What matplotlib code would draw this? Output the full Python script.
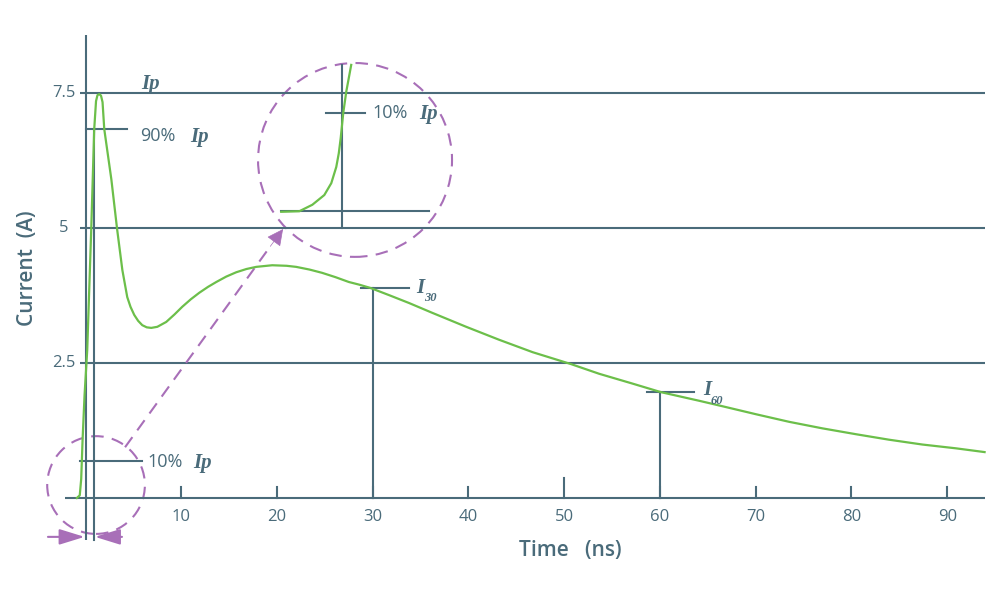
import numpy as np
import matplotlib.pyplot as plt
from matplotlib.patches import Ellipse

# pulse current (time in ns, current in A)
t_ns = [-0.9, -0.6, -0.45, -0.3, -0.1, 0.18, 0.6, 0.91, 1.1, 1.25, 1.44, 1.62, 1.78,
        1.96, 2.7, 3.3, 3.85, 4.36, 4.7, 5.09, 5.5, 5.93, 6.4, 6.87, 7.5, 8.43, 9.3,
        10.1, 11.0, 11.88, 12.8, 13.66, 14.7, 15.74, 16.8, 17.83, 19.5, 21.0, 22.0,
        23.4, 24.7, 26.1, 27.5, 28.6, 29.75, 31.8, 33.8, 36.2, 39.76, 43.2, 46.7,
        50.7, 53.65, 57.1, 60.1, 64.1, 66.5, 70.05, 73.5, 76.95, 80.5, 83.9, 87.4,
        90.9, 93.9]
i_amp = [0.0, 0.05, 0.35, 1.1, 1.9, 2.74, 4.98, 6.83, 7.35, 7.46, 7.48, 7.45, 7.33,
         6.83, 5.9, 4.98, 4.22, 3.72, 3.54, 3.39, 3.28, 3.2, 3.16, 3.15, 3.17, 3.26,
         3.4, 3.54, 3.68, 3.8, 3.91, 4.0, 4.1, 4.18, 4.24, 4.28, 4.31, 4.30, 4.28,
         4.23, 4.17, 4.09, 4.0, 3.95, 3.89, 3.75, 3.61, 3.43, 3.17, 2.93, 2.70,
         2.48, 2.30, 2.12, 1.96, 1.80, 1.70, 1.55, 1.41, 1.29, 1.18, 1.08, 0.99,
         0.92, 0.85]

# magnified rising edge drawn inside the dashed circle (same data units as the chart)
zoom_t = [20.44, 22.33, 23.69, 24.94, 25.67, 26.19, 26.45, 26.65, 26.92, 27.23, 27.75]
zoom_i = [5.30, 5.31, 5.43, 5.61, 5.83, 6.13, 6.38, 6.66, 7.13, 7.52, 8.02]

x_ticks = [10, 20, 30, 40, 50, 60, 70, 80, 90]
y_ticks = [2.5, 5, 7.5]
y_tick_labels = ["2.5", "5", "7.5"]

ip = 7.5
i90 = 6.83
i10 = 0.685
t10, t90 = 0.0, 0.89
i30, i60 = 3.89, 1.96

slate = "#4a6b7a"
green = "#6cbf4a"
purple = "#a86fb8"
sans = ["Open Sans", "DejaVu Sans"]
serif = ["Liberation Serif", "DejaVu Serif"]

fig = plt.figure(figsize=(10, 6), dpi=100)
ax = fig.add_axes([0, 0, 1, 1])
ax.set_xlim(-8.93, 95.51)
ax.set_ylim(-1.889, 9.222)
ax.axis("off")

lw = 1.5
# axes
ax.plot([-2.1, 93.9], [0, 0], color=slate, lw=lw, solid_capstyle="butt")
ax.plot([t10, t10], [-0.78, 8.57], color=slate, lw=lw, solid_capstyle="butt")
ax.hlines(y_ticks, 0, 93.9, color=slate, lw=lw)
ax.hlines(y_ticks, -0.55, 0, color=slate, lw=lw)
for xt in x_ticks:
    ax.plot([xt, xt], [0, 0.37 if xt == 50 else 0.2], color=slate, lw=lw)
    ax.text(xt, -0.36, str(xt), ha="center", va="center", fontsize=12,
            color=slate, family=sans, fontweight="medium")
for yt, lab in zip(y_ticks, y_tick_labels):
    ax.text(-2.25, yt, lab, ha="center", va="center", fontsize=12,
            color=slate, family=sans, fontweight="medium")

ax.text(-6.1, 4.26, "Current  (A)", rotation=90, ha="center", va="center",
        fontsize=15, color=slate, family=sans, fontweight="semibold")
ax.text(50.6, -0.98, "Time   (ns)", ha="center", va="center",
        fontsize=15, color=slate, family=sans, fontweight="semibold")

# markers: 90 %, 10 %, I30, I60
ax.plot([0, 4.36], [i90, i90], color=slate, lw=lw)
ax.plot([t90, t90], [-0.78, i90], color=slate, lw=lw)
ax.plot([-0.6, 5.9], [i10, i10], color=slate, lw=lw)
ax.plot([28.8, 33.8], [i30, i30], color=slate, lw=lw)
ax.plot([30, 30], [0, i30], color=slate, lw=lw)
ax.plot([58.6, 63.6], [i60, i60], color=slate, lw=lw)
ax.plot([60, 60], [0, i60], color=slate, lw=lw)

ax.plot(t_ns, i_amp, color=green, lw=1.6, zorder=3)

# inset (magnified rise)
ax.plot([26.81, 26.81], [5.0, 8.02], color=slate, lw=lw)
ax.plot([20.44, 35.9], [5.31, 5.31], color=slate, lw=lw)
ax.plot([25.15, 29.2], [7.13, 7.13], color=slate, lw=lw)
ax.plot(zoom_t, zoom_i, color=green, lw=1.6, zorder=3)

# labels
ip_kw = dict(fontsize=15, color=slate, family=serif, fontweight="bold",
             fontstyle="italic", va="center")
pct_kw = dict(fontsize=13, color=slate, family=sans, va="center")
ax.text(5.8, 7.66, "Ip", **ip_kw)
ax.text(5.69, 6.70, "90%", **pct_kw)
ax.text(10.9, 6.68, "Ip", **ip_kw)
ax.text(6.42, 0.66, "10%", **pct_kw)
ax.text(11.2, 0.64, "Ip", **ip_kw)
ax.text(29.92, 7.13, "10%", **pct_kw)
ax.text(34.8, 7.11, "Ip", **ip_kw)
ax.text(34.5, 3.89, "I", **ip_kw)
ax.text(35.35, 3.70, "30", fontsize=9, color=slate, family=serif,
        fontweight="bold", fontstyle="italic", va="center")
ax.text(64.5, 2.0, "I", **ip_kw)
ax.text(65.25, 1.80, "60", fontsize=9, color=slate, family=serif,
        fontweight="bold", fontstyle="italic", va="center")

# dashed circles and arrows
dash = (0, (6, 4))
ax.add_patch(Ellipse((1.1, 0.24), 10.2, 1.81, fill=False, ec=purple, lw=1.5,
                     ls=dash))
ax.add_patch(Ellipse((28.15, 6.26), 20.26, 3.59, fill=False, ec=purple, lw=1.5,
                     ls=dash))
ax.plot([4.13, 19.3], [0.94, 4.66], color=purple, lw=1.5, ls=dash)
ax.annotate("", xy=(20.63, 4.98), xytext=(19.3, 4.66),
            arrowprops=dict(arrowstyle="-|>", color=purple, lw=0.5,
                            mutation_scale=26, shrinkA=0, shrinkB=0))
head = "-|>,head_length=0.55,head_width=0.17"
ax.annotate("", xy=(t10 - 0.1, -0.72), xytext=(-3.92, -0.72),
            arrowprops=dict(arrowstyle=head, color=purple, lw=1.5,
                            mutation_scale=28, shrinkA=0, shrinkB=0))
ax.annotate("", xy=(t90 + 0.1, -0.72), xytext=(3.81, -0.72),
            arrowprops=dict(arrowstyle=head, color=purple, lw=1.5,
                            mutation_scale=28, shrinkA=0, shrinkB=0))

fig.savefig("out.png", dpi=100)
